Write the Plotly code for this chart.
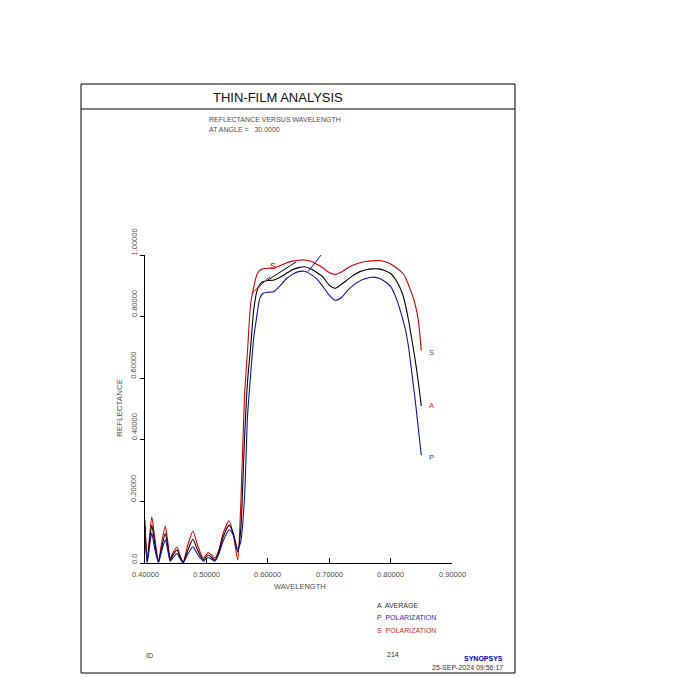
import plotly.graph_objects as go

# ---------------- data ----------------
wavelength = [0.400, 0.4035, 0.411, 0.416, 0.422, 0.427, 0.433, 0.437, 0.441, 0.446,
              0.452, 0.457, 0.462, 0.470, 0.478, 0.486, 0.495, 0.503, 0.514, 0.520,
              0.527, 0.537, 0.544, 0.551, 0.556, 0.562, 0.567, 0.572, 0.577, 0.582,
              0.587, 0.592, 0.600, 0.610, 0.620, 0.630, 0.640, 0.650, 0.660, 0.670,
              0.680, 0.690, 0.700, 0.710, 0.720, 0.730, 0.740, 0.750, 0.760, 0.770,
              0.780, 0.790, 0.800, 0.810, 0.820, 0.825, 0.830, 0.835, 0.840, 0.845, 0.850]

s_pol = [0.140, 0.010, 0.150, 0.080, 0.005, 0.065, 0.120, 0.070, 0.015, 0.035,
         0.052, 0.025, 0.003, 0.060, 0.104, 0.055, 0.015, 0.034, 0.016, 0.040,
         0.095, 0.137, 0.090, 0.010, 0.190, 0.540, 0.690, 0.840, 0.895, 0.935,
         0.950, 0.955, 0.957, 0.958, 0.965, 0.974, 0.980, 0.983, 0.984, 0.980,
         0.970, 0.958, 0.943, 0.937, 0.945, 0.958, 0.968, 0.975, 0.979, 0.981,
         0.982, 0.979, 0.971, 0.958, 0.940, 0.924, 0.898, 0.872, 0.840, 0.790, 0.690]

average = [0.120, 0.005, 0.123, 0.062, 0.003, 0.050, 0.096, 0.055, 0.010, 0.027,
           0.042, 0.020, 0.002, 0.043, 0.077, 0.040, 0.010, 0.026, 0.010, 0.035,
           0.083, 0.123, 0.095, 0.035, 0.110, 0.400, 0.590, 0.700, 0.820, 0.880,
           0.905, 0.913, 0.917, 0.919, 0.928, 0.940, 0.952, 0.959, 0.962, 0.955,
           0.943, 0.928, 0.902, 0.892, 0.905, 0.920, 0.935, 0.946, 0.952, 0.955,
           0.955, 0.950, 0.940, 0.915, 0.870, 0.830, 0.780, 0.720, 0.660, 0.590, 0.510]

p_pol = [0.105, 0.000, 0.097, 0.045, 0.002, 0.038, 0.075, 0.042, 0.006, 0.018,
         0.031, 0.014, 0.001, 0.030, 0.053, 0.027, 0.006, 0.018, 0.006, 0.028,
         0.070, 0.107, 0.090, 0.045, 0.070, 0.210, 0.478, 0.610, 0.730, 0.800,
         0.860, 0.875, 0.879, 0.881, 0.900, 0.922, 0.937, 0.946, 0.947, 0.937,
         0.922, 0.897, 0.870, 0.853, 0.862, 0.885, 0.903, 0.916, 0.924, 0.928,
         0.925, 0.915, 0.898, 0.855, 0.790, 0.750, 0.690, 0.610, 0.530, 0.440, 0.350]

x_ticks = [0.4, 0.5, 0.6, 0.7, 0.8, 0.9]
x_tick_labels = ["0.40000", "0.50000", "0.60000", "0.70000", "0.80000", "0.90000"]
y_ticks = [0.0, 0.2, 0.4, 0.6, 0.8, 1.0]
y_tick_labels = ["0.0", "0.20000", "0.40000", "0.60000", "0.80000", "1.00000"]

RED = "#d40000"
BLUE = "#1010a8"
BLACK = "#000000"
GRAY = "#505050"
FONT = "Liberation Sans"

fig = go.Figure()
for y, c in [(s_pol, RED), (average, BLACK), (p_pol, BLUE)]:
    fig.add_trace(go.Scatter(x=wavelength, y=y, mode="lines",
                             line=dict(color=c, width=1.1, shape="spline", smoothing=0.6),
                             showlegend=False, hoverinfo="skip"))

OFF = 8  # page body margin
PW, PH = 307, 308
W, H = 674, 671
L, T = 145 - OFF, 255 - OFF
R = W - L - PW
B = H - T - PH


def px(x):
    return (x - OFF - L) / PW


def py(y):
    return (H - B - (y - OFF)) / PH


annotations = []
for v, t in zip(y_ticks, y_tick_labels):
    annotations.append(dict(x=0, xref="paper", y=v, yref="y", text=t, textangle=-90,
                            showarrow=False, xanchor="center", yanchor="bottom",
                            xshift=-11, yshift=-3,
                            font=dict(family=FONT, size=7.5, color=GRAY)))
for v, t in zip(x_ticks, x_tick_labels):
    annotations.append(dict(x=v, xref="x", y=0, yref="paper", text=t,
                            showarrow=False, xanchor="center", yanchor="middle",
                            yshift=-11, font=dict(family=FONT, size=7.5, color=GRAY)))


def txt(x, y, text, size=7.5, color=GRAY, xa="left", ya="middle", bold=False, angle=0):
    if bold:
        text = "<b>" + text + "</b>"
    annotations.append(dict(x=px(x), y=py(y), xref="paper", yref="paper", text=text,
                            showarrow=False, xanchor=xa, yanchor=ya, textangle=angle,
                            font=dict(family=FONT, size=size, color=color)))


txt(278, 98, "THIN-FILM ANALYSIS", size=13, color="#111111", xa="center")
txt(207, 119, "REFLECTANCE VERSUS WAVELENGTH", size=7)
txt(207, 130, "AT ANGLE =   30.0000", size=7)
txt(300, 586, "WAVELENGTH", size=7.5, xa="center")
txt(119, 408, "REFLECTANCE", size=8, xa="center", angle=-90)
txt(375, 605, "A  AVERAGE", size=7, color="#333333")
txt(375, 617, "P  POLARIZATION", size=7, color="#3030c0")
txt(375, 630, "S  POLARIZATION", size=7, color="#d03030")
txt(144, 655, "ID", size=7, color="#333333")
txt(385, 654, "214", size=7, color="#333333")
txt(505, 658, "SYNOPSYS", size=7, color="#0000d0", xa="right", bold=True)
txt(505, 667, "25-SEP-2024 09:56:17", size=7, color="#333333", xa="right")


def dlabel(x, y, text, color, size=9):
    annotations.append(dict(x=x, y=y, xref="x", yref="y", text=text, showarrow=False,
                            xanchor="center", yanchor="middle",
                            font=dict(family=FONT, size=size, color=color)))


dlabel(0.6085, 0.964, "S", RED)
dlabel(0.654, 1.010, "A", BLACK)
dlabel(0.6997, 1.039, "P", BLUE)
dlabel(0.866, 0.682, "S", "#5050b0", size=7.5)
dlabel(0.866, 0.510, "A", "#d03030", size=7.5)
dlabel(0.866, 0.344, "P", "#3030b0", size=7.5)

shapes = [
    dict(type="rect", xref="paper", yref="paper", x0=px(81), x1=px(515), y0=py(673), y1=py(84),
         line=dict(color="black", width=1)),
    dict(type="line", xref="paper", yref="paper", x0=px(81), x1=px(515), y0=py(109), y1=py(109),
         line=dict(color="black", width=1)),
    dict(type="line", xref="x", yref="y", x0=0.6036, y0=0.930, x1=0.5738, y1=0.8756,
         line=dict(color=RED, width=1)),
    dict(type="line", xref="x", yref="y", x0=0.6459, y0=0.977, x1=0.6003, y1=0.919,
         line=dict(color=BLACK, width=1)),
    dict(type="line", xref="x", yref="y", x0=0.6932, y0=1.016, x1=0.6655, y1=0.946,
         line=dict(color=BLUE, width=1)),
]

fig.update_layout(
    width=W, height=H, margin=dict(l=L, r=R, t=T, b=B, pad=0),
    paper_bgcolor="white", plot_bgcolor="white",
    annotations=annotations, shapes=shapes, showlegend=False,
    xaxis=dict(range=[0.4, 0.9], tickvals=x_ticks, showticklabels=False, showgrid=False,
               zeroline=False, showline=True, linecolor="black", linewidth=1,
               ticks="inside", ticklen=5, tickcolor="black"),
    yaxis=dict(range=[0, 1], tickvals=y_ticks, showticklabels=False, showgrid=False,
               zeroline=False, showline=True, linecolor="black", linewidth=1,
               ticks="outside", ticklen=4, tickcolor="black"),
)

fig.write_html("out.html")
